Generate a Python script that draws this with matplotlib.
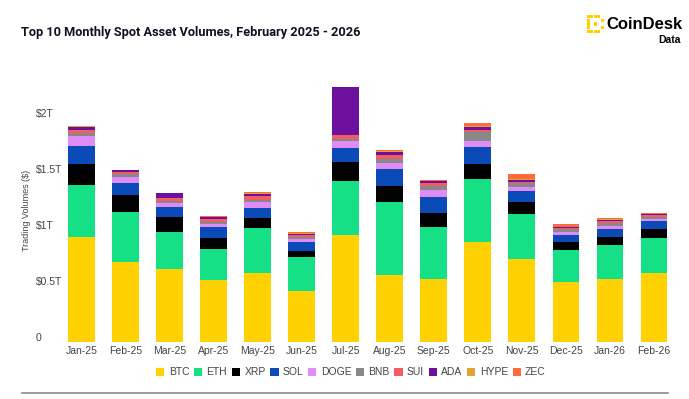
import matplotlib
matplotlib.use('Agg')
import numpy as np
import matplotlib.pyplot as plt
import matplotlib.transforms as mtransforms
from matplotlib.patches import Patch, Rectangle

plt.rcParams['font.family'] = ['Liberation Sans', 'DejaVu Sans']

## data, $ trillions per month
months = ['Jan-25', 'Feb-25', 'Mar-25', 'Apr-25', 'May-25', 'Jun-25', 'Jul-25',
          'Aug-25', 'Sep-25', 'Oct-25', 'Nov-25', 'Dec-25', 'Jan-26', 'Feb-26']
btc  = [0.932, 0.709, 0.646, 0.551, 0.610, 0.455, 0.955, 0.596, 0.557, 0.887, 0.738, 0.536, 0.557, 0.613]
eth  = [0.467, 0.449, 0.333, 0.274, 0.402, 0.304, 0.483, 0.649, 0.470, 0.566, 0.405, 0.283, 0.306, 0.316]
xrp  = [0.188, 0.151, 0.134, 0.104, 0.092, 0.054, 0.164, 0.145, 0.122, 0.134, 0.104, 0.068, 0.075, 0.077]
sol  = [0.163, 0.105, 0.092, 0.095, 0.092, 0.080, 0.127, 0.155, 0.146, 0.149, 0.099, 0.068, 0.071, 0.069]
doge = [0.089, 0.059, 0.030, 0.027, 0.051, 0.021, 0.063, 0.053, 0.062, 0.059, 0.033, 0.024, 0.024, 0.023]
bnb  = [0.021, 0.021, 0.021, 0.015, 0.018, 0.018, 0.018, 0.033, 0.036, 0.074, 0.035, 0.024, 0.030, 0.018]
sui  = [0.030, 0.018, 0.029, 0.027, 0.039, 0.018, 0.038, 0.033, 0.020, 0.024, 0.015, 0.012, 0.012, 0.015]
ada  = [0.030, 0.021, 0.042, 0.020, 0.016, 0.014, 0.423, 0.032, 0.020, 0.024, 0.015, 0.010, 0.012, 0.006]
hype = [0.003, 0.001, 0.002, 0.004, 0.007, 0.006, 0.003, 0.007, 0.006, 0.011, 0.009, 0.002, 0.004, 0.003]
zec  = [0.003, 0.001, 0.001, 0.003, 0.006, 0.006, 0.003, 0.006, 0.005, 0.022, 0.042, 0.024, 0.013, 0.006]

names = ['BTC', 'ETH', 'XRP', 'SOL', 'DOGE', 'BNB', 'SUI', 'ADA', 'HYPE', 'ZEC']
series = [btc, eth, xrp, sol, doge, bnb, sui, ada, hype, zec]
colors = ['#FFD100', '#16E085', '#000000', '#0A4BB8', '#E08CF7',
          '#888888', '#F25C63', '#6E109E', '#E3A532', '#FF6B3D']

W, H = 689, 399
fig = plt.figure(figsize=(W/100, H/100), dpi=100)
# axes placed in pixel terms
ax = fig.add_axes([60/W, 1-341.7/H, 616/W, 262.1/H])

x = np.arange(len(months))
bottom = np.zeros(len(months))
for name, vals, col in zip(names, series, colors):
    ax.bar(x, vals, width=0.61, bottom=bottom, color=col, linewidth=0, label=name)
    bottom += np.array(vals)

ax.set_xlim(-0.493, 13.5)
ax.set_ylim(0, 2.34)
for s in ax.spines.values():
    s.set_visible(False)

ax.set_xticks(x)
ax.set_xticklabels(months, fontsize=7.5, color='#444444')
ax.set_yticks([0, 0.5, 1, 1.5, 2])
ax.set_yticklabels(['0', '$0.5T', '$1T', '$1.5T', '$2T'], fontsize=7.5, color='#444444')
ax.tick_params(axis='x', length=0, pad=3)
ax.tick_params(axis='y', length=0, pad=17.3)
shift = mtransforms.ScaledTranslation(0, 5/100, fig.dpi_scale_trans)
for lab in ax.get_yticklabels():
    lab.set_horizontalalignment('left')
    lab.set_transform(lab.get_transform() + shift)

fig.text(27/W, 1-210/H, 'Trading Volumes ($)', rotation=90, fontsize=6.5,
         color='#444444', ha='center', va='center')

# title
fig.text(21/W, 1-32.5/H, 'Top 10 Monthly Spot Asset Volumes, February 2025 - 2026',
         fontsize=9.2, fontweight='bold', color='#111122', ha='left', va='center',
         family=['Roboto', 'DejaVu Sans'])

# legend
handles = [Patch(facecolor=c, edgecolor='none') for c in colors]
fig.legend(handles, names, loc='center', bbox_to_anchor=(351/W, 1-372.3/H), ncol=10,
           frameon=False, fontsize=7.5, handlelength=0.8, handleheight=0.8,
           handletextpad=0.4, columnspacing=0.45, labelcolor='#444444')

# bottom rule
fig.add_artist(plt.Line2D([22/W, 668/W], [1-392.7/H, 1-392.7/H], color='#8a8a8a',
                          linewidth=1.2, transform=fig.transFigure))

# logo mark
lax = fig.add_axes([586.5/W, 1-33/H, 17.5/W, 18/H])
lax.set_xlim(0, 5)
lax.set_ylim(0, 5)
lax.axis('off')
cells = [(0, 0), (0, 1), (0, 2), (0, 3), (0, 4), (1, 4), (2, 4), (3, 4),
         (1, 0), (2, 0), (3, 0), (2, 2), (4, 1), (4, 3)]
for cx, cy in cells:
    lax.add_patch(Rectangle((cx + 0.03, cy + 0.03), 0.94, 0.94, color='#FFD100', linewidth=0))
fig.text(606/W, 1-24.5/H, 'CoinDesk', fontsize=12, fontweight='bold', color='#000000',
         ha='left', va='center')
fig.text(681/W, 1-40/H, 'Data', fontsize=7.5, fontweight='bold', color='#000000',
         ha='right', va='center')

fig.savefig('out.png', dpi=100)
